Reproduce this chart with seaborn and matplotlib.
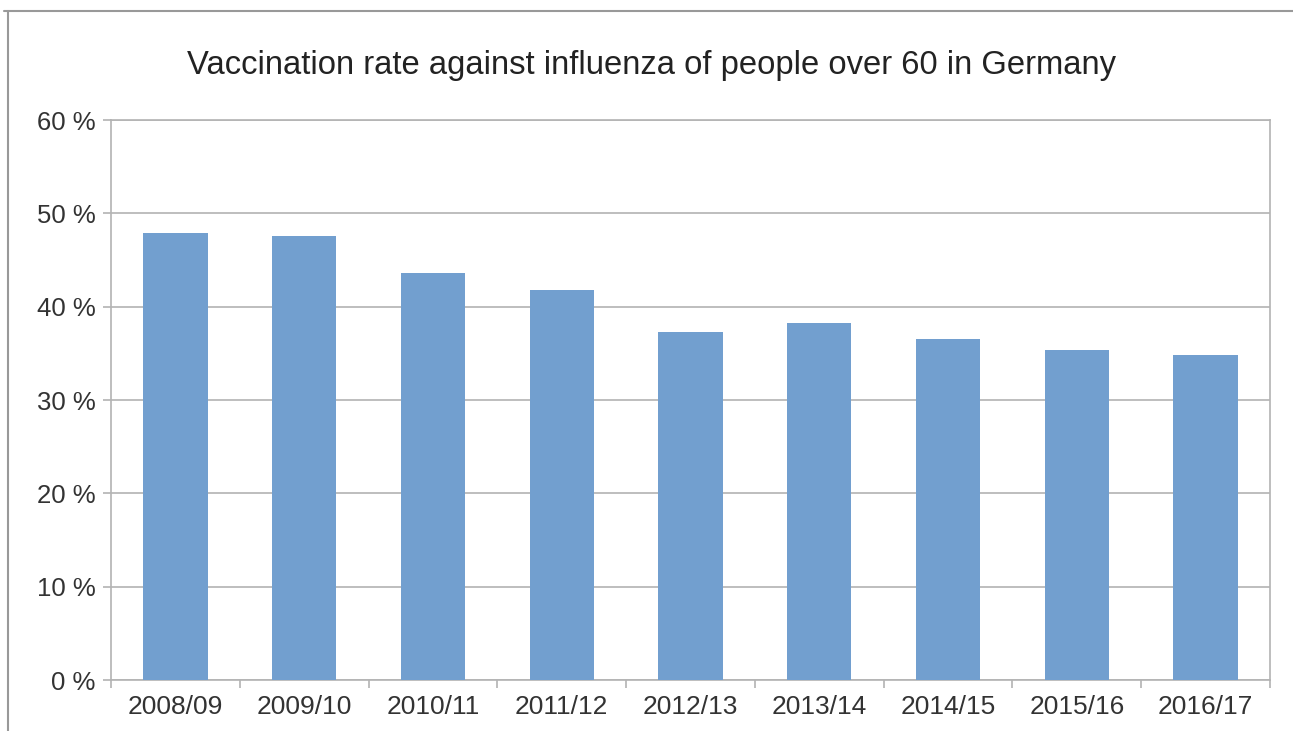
import matplotlib
matplotlib.use("Agg")
import matplotlib.pyplot as plt
import seaborn as sns
import numpy as np
import pandas as pd
from matplotlib.lines import Line2D
from matplotlib.ticker import FuncFormatter, MultipleLocator

seasons = ["2008/09", "2009/10", "2010/11", "2011/12", "2012/13",
           "2013/14", "2014/15", "2015/16", "2016/17"]
rates = [47.9, 47.6, 43.6, 41.8, 37.3, 38.2, 36.5, 35.4, 34.8]
title = "Vaccination rate against influenza of people over 60 in Germany"

sns.set_theme(style="white")
plt.rcParams['font.family'] = ['Liberation Sans', 'DejaVu Sans']

df = pd.DataFrame({"season": seasons, "rate": rates})

fig = plt.figure(figsize=(12.93, 7.31), dpi=100)
fig.patch.set_facecolor("white")
ax = fig.add_axes([111/1293, 1-680/731, (1270-111)/1293, (680-120)/731])

sns.barplot(data=df, x="season", y="rate", color="#729fcf", saturation=1,
            width=0.5, linewidth=0, ax=ax, zorder=3)

grid_c = "#b3b3b3"
text_c = "#333333"
ax.set_xlim(-0.5, len(seasons) - 0.5)
ax.set_ylim(0, 60)
ax.yaxis.set_major_locator(MultipleLocator(10))
ax.yaxis.set_major_formatter(FuncFormatter(lambda v, p: f"{v:.0f} %"))
ax.grid(axis="y", color=grid_c, linewidth=1.2, zorder=0)
ax.set_axisbelow(True)
ax.set_xlabel("")
ax.set_ylabel("")

for side in ["left", "right", "bottom", "top"]:
    ax.spines[side].set_color(grid_c)
    ax.spines[side].set_linewidth(1.2)
    ax.spines[side].set_visible(True)

ax.tick_params(axis="y", which="major", left=True, length=6, width=1.2,
               color=grid_c, labelsize=18.5, labelcolor=text_c, pad=5)
ax.tick_params(axis="x", which="major", bottom=True, length=0,
               labelsize=19, labelcolor=text_c, pad=11)
ax.set_xticks(np.arange(-0.5, len(seasons) + 0.5, 1), minor=True)
ax.tick_params(axis="x", which="minor", bottom=True, length=6, width=1.2,
               color=grid_c)

fig.text(0.504, 0.910, title, ha="center", va="center", fontsize=23.6,
         color="#222222")

# outer chart frame (top and left edges)
fig.add_artist(Line2D([4/1293, 1.0], [1-11/731, 1-11/731],
                      transform=fig.transFigure, color="#999999", linewidth=1.5))
fig.add_artist(Line2D([8/1293, 8/1293], [0.0, 1-11/731],
                      transform=fig.transFigure, color="#999999", linewidth=1.5))

fig.savefig("out.png", dpi=100, facecolor="white")
